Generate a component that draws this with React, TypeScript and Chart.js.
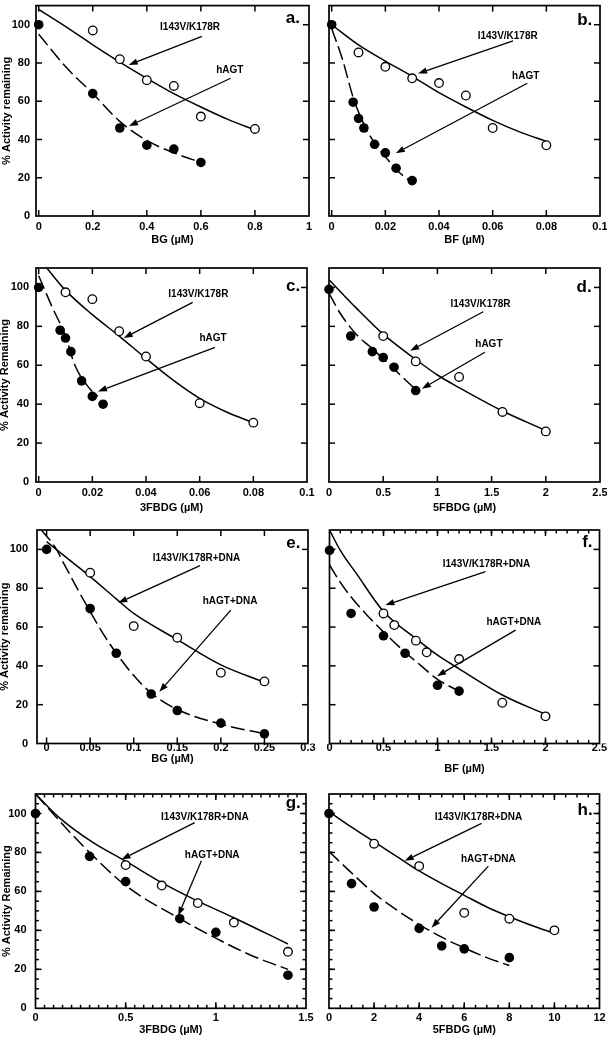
import React, { useEffect, useRef } from "react";
import { Chart, registerables } from "chart.js";
Chart.register(...registerables);

const FONT = "'Liberation Sans', Arial, Helvetica, sans-serif";

// ---------- tick labels ----------
const Y_TICKS = [0, 20, 40, 60, 80, 100];
const A_X_TICKS = [0, 0.2, 0.4, 0.6, 0.8, 1];
const B_X_TICKS = [0, 0.02, 0.04, 0.06, 0.08, 0.1];
const C_X_TICKS = [0, 0.02, 0.04, 0.06, 0.08, 0.1];
const D_X_TICKS = [0, 0.5, 1, 1.5, 2, 2.5];
const E_X_TICKS = [0, 0.05, 0.1, 0.15, 0.2, 0.25, 0.3];
const F_X_TICKS = [0, 0.5, 1, 1.5, 2, 2.5];
const G_X_TICKS = [0, 0.5, 1, 1.5];
const H_X_TICKS = [0, 2, 4, 6, 8, 10, 12];

// ---------- panel a (BG) ----------
const A_OPEN_X = [0.2, 0.3, 0.4, 0.5, 0.6, 0.8];
const A_OPEN_Y = [97, 82, 71, 68, 52, 45.5];
const A_FILLED_X = [0, 0.2, 0.3, 0.4, 0.5, 0.6];
const A_FILLED_Y = [100, 64, 46, 37, 35, 28];
const A_FIT_OPEN_X = [0, 0.1, 0.2, 0.3, 0.4, 0.5, 0.6, 0.7, 0.8];
const A_FIT_OPEN_Y = [108, 99, 89.5, 80.5, 72, 64, 57, 50.5, 45];
const A_FIT_FILLED_X = [0, 0.1, 0.2, 0.3, 0.4, 0.5, 0.6];
const A_FIT_FILLED_Y = [95, 78, 64, 49.5, 39.5, 33, 28];

// ---------- panel b (BF) ----------
const B_OPEN_X = [0.01, 0.02, 0.03, 0.04, 0.05, 0.06, 0.08];
const B_OPEN_Y = [85.5, 78, 72, 69.5, 63, 46, 37];
const B_FILLED_X = [0, 0.008, 0.01, 0.012, 0.016, 0.02, 0.024, 0.03];
const B_FILLED_Y = [100, 59.5, 51, 46, 37.5, 33, 25, 18.5];
const B_FIT_OPEN_X = [0, 0.01, 0.02, 0.03, 0.04, 0.05, 0.06, 0.07, 0.08];
const B_FIT_OPEN_Y = [100, 89.5, 81, 73, 64.5, 57, 50, 44, 39];
const B_FIT_FILLED_X = [0, 0.004, 0.008, 0.012, 0.016, 0.02, 0.025, 0.03];
const B_FIT_FILLED_Y = [98, 82, 62, 48, 38, 31, 23, 17.5];

// ---------- panel c (3FBDG) ----------
const C_OPEN_X = [0.01, 0.02, 0.03, 0.04, 0.06, 0.08];
const C_OPEN_Y = [97.5, 94, 77.5, 64.5, 40.5, 30.5];
const C_FILLED_X = [0, 0.008, 0.01, 0.012, 0.016, 0.02, 0.024];
const C_FILLED_Y = [100, 78, 74, 67, 52, 44, 40];
const C_FIT_OPEN_X = [0.003, 0.01, 0.02, 0.03, 0.04, 0.05, 0.06, 0.07, 0.08];
const C_FIT_OPEN_Y = [110, 98.5, 86, 75, 63.5, 52.5, 43, 36, 30.5];
const C_FIT_FILLED_X = [0, 0.005, 0.01, 0.0135, 0.019, 0.022];
const C_FIT_FILLED_Y = [106, 90, 75, 60, 48, 44];

// ---------- panel d (5FBDG) ----------
const D_OPEN_X = [0.5, 0.8, 1.2, 1.6, 2];
const D_OPEN_Y = [75, 62, 54, 36, 26];
const D_FILLED_X = [0, 0.2, 0.4, 0.5, 0.6, 0.8];
const D_FILLED_Y = [99, 75, 67, 64, 59, 47];
const D_FIT_OPEN_X = [0, 0.25, 0.5, 0.8, 1, 1.2, 1.6, 2];
const D_FIT_OPEN_Y = [104, 89.5, 76, 63, 55, 48.5, 36.5, 26.5];
const D_FIT_FILLED_X = [0, 0.1, 0.25, 0.4, 0.6, 0.8];
const D_FIT_FILLED_Y = [97, 87, 76, 68.5, 58, 47.5];

// ---------- panel e (BG + DNA) ----------
const E_OPEN_X = [0.05, 0.1, 0.15, 0.2, 0.25];
const E_OPEN_Y = [88, 60.5, 54.5, 36.5, 32];
const E_FILLED_X = [0, 0.05, 0.08, 0.12, 0.15, 0.2, 0.25];
const E_FILLED_Y = [100, 69.5, 46.5, 25.5, 17, 10.5, 5];
const E_FIT_OPEN_X = [0, 0.025, 0.05, 0.08, 0.1, 0.15, 0.2, 0.25];
const E_FIT_OPEN_Y = [104, 95, 86, 74.5, 67, 53.5, 40.5, 31.5];
const E_FIT_FILLED_X = [-0.006, 0.01, 0.02, 0.035, 0.05, 0.065, 0.08, 0.1, 0.12, 0.15, 0.2, 0.25];
const E_FIT_FILLED_Y = [110, 101, 92.5, 80, 68, 56.5, 46.5, 35, 26, 17.5, 10, 5];

// ---------- panel f (BF + DNA) ----------
const F_OPEN_X = [0.5, 0.6, 0.8, 0.9, 1.2, 1.6, 2];
const F_OPEN_Y = [67, 61, 53, 47, 43.5, 21, 14];
const F_FILLED_X = [0, 0.2, 0.5, 0.7, 1, 1.2];
const F_FILLED_Y = [99.5, 67, 55.5, 46.5, 30, 27];
const F_FIT_OPEN_X = [0, 0.1, 0.25, 0.5, 0.8, 1, 1.2, 1.6, 2];
const F_FIT_OPEN_Y = [110, 99.5, 87.5, 68, 54, 45.5, 38.5, 25, 15];
const F_FIT_FILLED_X = [0, 0.1, 0.2, 0.35, 0.5, 0.7, 0.85, 1, 1.2];
const F_FIT_FILLED_Y = [92, 83, 75.5, 66, 57.5, 47, 40, 33, 27];

// ---------- panel g (3FBDG + DNA) ----------
const G_OPEN_X = [0.5, 0.7, 0.9, 1.1, 1.4];
const G_OPEN_Y = [73.5, 63, 54, 44, 29];
const G_FILLED_X = [0, 0.3, 0.5, 0.8, 1, 1.4];
const G_FILLED_Y = [100, 78, 65, 46, 39, 17];
const G_FIT_OPEN_X = [0, 0.13, 0.32, 0.5, 0.7, 0.9, 1.1, 1.4];
const G_FIT_OPEN_Y = [110, 98, 85, 75.5, 64.5, 55, 46.5, 33];
const G_FIT_FILLED_X = [0, 0.2, 0.3, 0.5, 0.8, 1, 1.2, 1.4];
const G_FIT_FILLED_Y = [110, 89.5, 80, 63, 46, 36, 27, 20];

// ---------- panel h (5FBDG + DNA) ----------
const H_OPEN_X = [2, 4, 6, 8, 10];
const H_OPEN_Y = [84.5, 73, 49, 46, 40];
const H_FILLED_X = [0, 1, 2, 4, 5, 6, 8];
const H_FILLED_Y = [100, 64, 52, 41, 32, 30.5, 26];
const H_FIT_OPEN_X = [0, 1, 2, 3, 4, 5, 6, 7, 8, 9, 10];
const H_FIT_OPEN_Y = [101, 93, 85.5, 78, 70.5, 64, 58, 52, 47, 42.5, 38.5];
const H_FIT_FILLED_X = [0, 1, 2, 3, 4, 5, 6, 7, 8];
const H_FIT_FILLED_Y = [80.5, 69.5, 59, 50.5, 43, 36.5, 31, 26, 22];

// minor tick positions (decoration only)
const steps = (a: number, b: number, s: number) => {
  const out: number[] = [];
  const n = Math.round((b - a) / s);
  for (let i = 0; i <= n; i++) out.push(Math.round((a + i * s) * 1e6) / 1e6);
  return out;
};

type Ann = { text: string; tx: number; ty: number; ax: number; ay: number; bx: number; by: number };

interface PanelDef {
  letter: string; lx: number; ly: number;
  L: number; R: number; T: number; B: number;
  xMin: number; xMax: number; xTicks: number[]; xMinor: number[]; yMinor: number[];
  xTitle: string; yTitle: string | null;
  xTickPad: number; xTitleCenter: number; yTitlePad: number; yTickPad: number;
  openX: number[]; openY: number[]; filledX: number[]; filledY: number[];
  fitOpenX: number[]; fitOpenY: number[]; fitFilledX: number[]; fitFilledY: number[];
  anns: Ann[];
}

const P1 = "I143V/K178R";
const P2 = "hAGT";
const P1D = "I143V/K178R+DNA";
const P2D = "hAGT+DNA";

const PANELS: PanelDef[] = [
  {
    letter: "a.", lx: 0.94, ly: 103.6, L: 36, R: 309, T: 0, B: 216,
    xMin: -0.01, xMax: 1, xTicks: A_X_TICKS, xMinor: [], yMinor: [],
    xTitle: "BG (\u00b5M)", yTitle: "% Activity remaining",
    xTickPad: 4.4, xTitleCenter: 240, yTitlePad: 0, yTickPad: 6,
    openX: A_OPEN_X, openY: A_OPEN_Y, filledX: A_FILLED_X, filledY: A_FILLED_Y,
    fitOpenX: A_FIT_OPEN_X, fitOpenY: A_FIT_OPEN_Y, fitFilledX: A_FIT_FILLED_X, fitFilledY: A_FIT_FILLED_Y,
    anns: [
      { text: P1, tx: 0.56, ty: 98.5, ax: 0.604, ay: 93.9, bx: 0.333, by: 79 },
      { text: P2, tx: 0.707, ty: 76, ax: 0.71, ay: 72, bx: 0.334, by: 47 },
    ],
  },
  {
    letter: "b.", lx: 0.0943, ly: 102.5, L: 329, R: 600, T: 0, B: 216,
    xMin: -0.001, xMax: 0.1, xTicks: B_X_TICKS, xMinor: [], yMinor: [],
    xTitle: "BF (\u00b5M)", yTitle: null,
    xTickPad: 4.4, xTitleCenter: 240, yTitlePad: 0, yTickPad: 6,
    openX: B_OPEN_X, openY: B_OPEN_Y, filledX: B_FILLED_X, filledY: B_FILLED_Y,
    fitOpenX: B_FIT_OPEN_X, fitOpenY: B_FIT_OPEN_Y, fitFilledX: B_FIT_FILLED_X, fitFilledY: B_FIT_FILLED_Y,
    anns: [
      { text: P1, tx: 0.0656, ty: 94, ax: 0.0676, ay: 91.5, bx: 0.0322, by: 74.5 },
      { text: P2, tx: 0.0723, ty: 73, ax: 0.0729, ay: 69.4, bx: 0.0239, by: 32.8 },
    ],
  },
  {
    letter: "c.", lx: 0.0948, ly: 100.4, L: 36, R: 307, T: 268, B: 482,
    xMin: -0.001, xMax: 0.1, xTicks: C_X_TICKS, xMinor: [], yMinor: [],
    xTitle: "3FBDG (\u00b5M)", yTitle: "% Activity Remaining",
    xTickPad: 4.7, xTitleCenter: 508, yTitlePad: -1.5, yTickPad: 7,
    openX: C_OPEN_X, openY: C_OPEN_Y, filledX: C_FILLED_X, filledY: C_FILLED_Y,
    fitOpenX: C_FIT_OPEN_X, fitOpenY: C_FIT_OPEN_Y, fitFilledX: C_FIT_FILLED_X, fitFilledY: C_FIT_FILLED_Y,
    anns: [
      { text: P1, tx: 0.0595, ty: 96.6, ax: 0.0574, ay: 92.3, bx: 0.0317, by: 74 },
      { text: P2, tx: 0.065, ty: 74, ax: 0.0657, ay: 69.2, bx: 0.0221, by: 46.5 },
    ],
  },
  {
    letter: "d.", lx: 2.353, ly: 100, L: 329, R: 600, T: 268, B: 482,
    xMin: 0, xMax: 2.5, xTicks: D_X_TICKS, xMinor: [], yMinor: [],
    xTitle: "5FBDG (\u00b5M)", yTitle: null,
    xTickPad: 4.7, xTitleCenter: 508, yTitlePad: 0, yTickPad: 6,
    openX: D_OPEN_X, openY: D_OPEN_Y, filledX: D_FILLED_X, filledY: D_FILLED_Y,
    fitOpenX: D_FIT_OPEN_X, fitOpenY: D_FIT_OPEN_Y, fitFilledX: D_FIT_FILLED_X, fitFilledY: D_FIT_FILLED_Y,
    anns: [
      { text: P1, tx: 1.398, ty: 91.5, ax: 1.423, ay: 87.5, bx: 0.749, by: 67.5 },
      { text: P2, tx: 1.475, ty: 71, ax: 1.438, ay: 66.7, bx: 0.857, by: 47.9 },
    ],
  },
  {
    letter: "e.", lx: 0.2833, ly: 103, L: 37, R: 308, T: 530, B: 743.5,
    xMin: -0.011, xMax: 0.3, xTicks: E_X_TICKS, xMinor: [], yMinor: [],
    xTitle: "BG (\u00b5M)", yTitle: "% Activity remaining",
    xTickPad: -1.8, xTitleCenter: 759, yTitlePad: -2, yTickPad: 9,
    openX: E_OPEN_X, openY: E_OPEN_Y, filledX: E_FILLED_X, filledY: E_FILLED_Y,
    fitOpenX: E_FIT_OPEN_X, fitOpenY: E_FIT_OPEN_Y, fitFilledX: E_FIT_FILLED_X, fitFilledY: E_FIT_FILLED_Y,
    anns: [
      { text: P1D, tx: 0.172, ty: 95.5, ax: 0.176, ay: 91.6, bx: 0.0823, by: 72.5 },
      { text: P2D, tx: 0.2106, ty: 73.5, ax: 0.2114, ay: 68.7, bx: 0.1294, by: 26.6 },
    ],
  },
  {
    letter: "f.", lx: 2.388, ly: 103.4, L: 329.5, R: 599.5, T: 530, B: 743.5,
    xMin: 0, xMax: 2.5, xTicks: F_X_TICKS, xMinor: steps(0, 2.5, 0.1), yMinor: [],
    xTitle: "BF (\u00b5M)", yTitle: null,
    xTickPad: -1.8, xTitleCenter: 769, yTitlePad: 0, yTickPad: 6,
    openX: F_OPEN_X, openY: F_OPEN_Y, filledX: F_FILLED_X, filledY: F_FILLED_Y,
    fitOpenX: F_FIT_OPEN_X, fitOpenY: F_FIT_OPEN_Y, fitFilledX: F_FIT_FILLED_X, fitFilledY: F_FIT_FILLED_Y,
    anns: [
      { text: P1D, tx: 1.454, ty: 92.4, ax: 1.444, ay: 88.5, bx: 0.517, by: 71.3 },
      { text: P2D, tx: 1.707, ty: 62.7, ax: 1.723, ay: 58.4, bx: 0.996, by: 34.7 },
    ],
  },
  {
    letter: "g.", lx: 1.429, ly: 105.1, L: 35.5, R: 306, T: 794, B: 1008.3,
    xMin: 0, xMax: 1.5, xTicks: G_X_TICKS, xMinor: steps(0, 1.5, 0.05), yMinor: steps(0, 105, 5),
    xTitle: "3FBDG (\u00b5M)", yTitle: "% Activity Remaining",
    xTickPad: 3.4, xTitleCenter: 1030, yTitlePad: 0, yTickPad: 9,
    openX: G_OPEN_X, openY: G_OPEN_Y, filledX: G_FILLED_X, filledY: G_FILLED_Y,
    fitOpenX: G_FIT_OPEN_X, fitOpenY: G_FIT_OPEN_Y, fitFilledX: G_FIT_FILLED_X, fitFilledY: G_FIT_FILLED_Y,
    anns: [
      { text: P1D, tx: 0.939, ty: 98.3, ax: 0.883, ay: 95.3, bx: 0.477, by: 76.4 },
      { text: P2D, tx: 0.98, ty: 78.6, ax: 0.92, ay: 75.7, bx: 0.791, by: 47.5 },
    ],
  },
  {
    letter: "h.", lx: 11.36, ly: 101.7, L: 329, R: 599.5, T: 794, B: 1008.3,
    xMin: 0, xMax: 12, xTicks: H_X_TICKS, xMinor: steps(0, 12, 0.5), yMinor: steps(0, 105, 5),
    xTitle: "5FBDG (\u00b5M)", yTitle: null,
    xTickPad: 3.4, xTitleCenter: 1030, yTitlePad: 0, yTickPad: 6,
    openX: H_OPEN_X, openY: H_OPEN_Y, filledX: H_FILLED_X, filledY: H_FILLED_Y,
    fitOpenX: H_FIT_OPEN_X, fitOpenY: H_FIT_OPEN_Y, fitFilledX: H_FIT_FILLED_X, fitFilledY: H_FIT_FILLED_Y,
    anns: [
      { text: P1D, tx: 6.63, ty: 98.3, ax: 6.77, ay: 94.9, bx: 3.36, by: 75.7 },
      { text: P2D, tx: 7.07, ty: 76.4, ax: 7.07, ay: 73, bx: 4.55, by: 41.4 },
    ],
  },
];

const W = 607;
const H = 1038;
const Y_MIN = 0;
const Y_MAX = 110;
const TICK_LH = 11 * 1.2;

const pts = (xs: number[], ys: number[]) => xs.map((x, i) => ({ x, y: ys[i] }));

function makePlugin(p: PanelDef) {
  return {
    id: "panelDecor",
    beforeDatasetsDraw(chart: any) {
      const { ctx, chartArea } = chart;
      const { left, right, top, bottom } = chartArea;
      const xs = chart.scales.x;
      const ys = chart.scales.y;
      ctx.save();
      ctx.strokeStyle = "#000";
      ctx.lineWidth = 1.7;
      ctx.strokeRect(left, top, right - left, bottom - top);
      const seg = (x1: number, y1: number, x2: number, y2: number) => {
        ctx.beginPath();
        ctx.moveTo(x1, y1);
        ctx.lineTo(x2, y2);
        ctx.stroke();
      };
      ctx.lineWidth = 1.5;
      const xMarks = (vals: number[], len: number) => {
        vals.forEach((v) => {
          const px = xs.getPixelForValue(v);
          if (px < left + 1 || px > right - 1) return;
          seg(px, bottom, px, bottom - len);
          seg(px, top, px, top + len);
        });
      };
      const yMarks = (vals: number[], len: number) => {
        vals.forEach((v) => {
          const py = ys.getPixelForValue(v);
          if (py < top + 1 || py > bottom - 1) return;
          seg(left, py, left + len, py);
          seg(right, py, right - len, py);
        });
      };
      xMarks(p.xMinor, 3.5);
      yMarks(p.yMinor, 3.5);
      xMarks(p.xTicks, 6);
      yMarks(Y_TICKS, 6);
      ctx.restore();
    },
    afterDatasetsDraw(chart: any) {
      const { ctx } = chart;
      const xs = chart.scales.x;
      const ys = chart.scales.y;
      ctx.save();
      ctx.fillStyle = "#000";
      ctx.strokeStyle = "#000";
      ctx.lineWidth = 1.3;
      p.anns.forEach((a) => {
        const x1 = xs.getPixelForValue(a.ax);
        const y1 = ys.getPixelForValue(a.ay);
        const x2 = xs.getPixelForValue(a.bx);
        const y2 = ys.getPixelForValue(a.by);
        const ang = Math.atan2(y2 - y1, x2 - x1);
        const hl = 9;
        const hw = 3.2;
        const bxp = x2 - hl * Math.cos(ang);
        const byp = y2 - hl * Math.sin(ang);
        ctx.beginPath();
        ctx.moveTo(x1, y1);
        ctx.lineTo(bxp, byp);
        ctx.stroke();
        ctx.beginPath();
        ctx.moveTo(x2, y2);
        ctx.lineTo(bxp + hw * Math.sin(ang), byp - hw * Math.cos(ang));
        ctx.lineTo(bxp - hw * Math.sin(ang), byp + hw * Math.cos(ang));
        ctx.closePath();
        ctx.fill();
        ctx.font = `bold 10px ${FONT}`;
        ctx.textAlign = "center";
        ctx.textBaseline = "middle";
        ctx.fillText(a.text, xs.getPixelForValue(a.tx), ys.getPixelForValue(a.ty));
      });
      ctx.font = `bold 17px ${FONT}`;
      ctx.textAlign = "center";
      ctx.textBaseline = "middle";
      ctx.fillText(p.letter, xs.getPixelForValue(p.lx), ys.getPixelForValue(p.ly));
      ctx.restore();
    },
  };
}

function Panel({ p }: { p: PanelDef }) {
  const ref = useRef<HTMLCanvasElement | null>(null);
  useEffect(() => {
    if (!ref.current) return;
    const yw = p.yTitle ? p.L : 0;
    const xh = p.xTitleCenter - p.B + TICK_LH / 2;
    const chart = new Chart(ref.current, {
      type: "scatter",
      data: {
        datasets: [
          {
            label: "I143V/K178R",
            data: pts(p.openX, p.openY),
            pointRadius: 4.3,
            pointBackgroundColor: "#fff",
            pointBorderColor: "#000",
            pointBorderWidth: 1.3,
            showLine: false,
            clip: false,
            order: 0,
          } as any,
          {
            label: "hAGT",
            data: pts(p.filledX, p.filledY),
            pointRadius: 4.8,
            pointBackgroundColor: "#000",
            pointBorderColor: "#000",
            pointBorderWidth: 0,
            showLine: false,
            clip: false,
            order: 0,
          } as any,
          {
            label: "fit I143V/K178R",
            data: pts(p.fitOpenX, p.fitOpenY),
            showLine: true,
            pointRadius: 0,
            borderColor: "#000",
            borderWidth: 1.5,
            cubicInterpolationMode: "monotone",
            fill: false,
            order: 1,
          } as any,
          {
            label: "fit hAGT",
            data: pts(p.fitFilledX, p.fitFilledY),
            showLine: true,
            pointRadius: 0,
            borderColor: "#000",
            borderWidth: 1.5,
            borderDash: [14, 5],
            cubicInterpolationMode: "monotone",
            fill: false,
            order: 1,
          } as any,
        ],
      },
      options: {
        responsive: false,
        animation: false,
        events: [],
        layout: {
          padding: { left: p.L - yw, right: W - p.R, top: p.T, bottom: H - p.B - xh },
        },
        plugins: { legend: { display: false }, tooltip: { enabled: false } },
        scales: {
          x: {
            type: "linear",
            position: "bottom",
            min: p.xMin,
            max: p.xMax,
            grid: { display: false, drawTicks: false },
            border: { display: false },
            afterBuildTicks: (s: any) => {
              s.ticks = p.xTicks.map((v) => ({ value: v }));
            },
            afterFit: (s: any) => {
              s.height = xh;
              s.paddingLeft = 0;
              s.paddingRight = 0;
              s.paddingTop = 0;
              s.paddingBottom = 0;
            },
            ticks: {
              autoSkip: false,
              maxRotation: 0,
              padding: p.xTickPad,
              color: "#000",
              font: { family: FONT, size: 11, weight: "bold" },
              callback: (v: any) => String(v),
            },
            title: {
              display: true,
              text: p.xTitle,
              color: "#000",
              padding: 0,
              font: { family: FONT, size: 11, weight: "bold" },
            },
          },
          y: {
            type: "linear",
            position: "left",
            min: Y_MIN,
            max: Y_MAX,
            grid: { display: false, drawTicks: false },
            border: { display: false },
            afterBuildTicks: (s: any) => {
              s.ticks = Y_TICKS.map((v) => ({ value: v }));
            },
            afterFit: (s: any) => {
              s.width = yw;
              s.paddingLeft = 0;
              s.paddingRight = 0;
              s.paddingTop = 0;
              s.paddingBottom = 0;
            },
            ticks: {
              display: !!p.yTitle,
              padding: p.yTickPad,
              color: "#000",
              font: { family: FONT, size: 11, weight: "bold" },
              callback: (v: any) => String(v),
            },
            title: {
              display: !!p.yTitle,
              text: p.yTitle || "",
              color: "#000",
              padding: { top: p.yTitlePad, bottom: 0 },
              font: { family: FONT, size: 11, weight: "bold" },
            },
          },
        },
      } as any,
      plugins: [makePlugin(p)],
    });
    return () => chart.destroy();
  }, [p]);
  return (
    <canvas
      ref={ref}
      width={W}
      height={H}
      style={{ position: "absolute", left: 0, top: 0, width: W, height: H }}
    />
  );
}

export default function App() {
  return (
    <div style={{ position: "absolute", left: 0, top: 0, width: W, height: H, background: "#fff", overflow: "hidden" }}>
      {PANELS.map((p) => (
        <Panel key={p.letter} p={p} />
      ))}
    </div>
  );
}
